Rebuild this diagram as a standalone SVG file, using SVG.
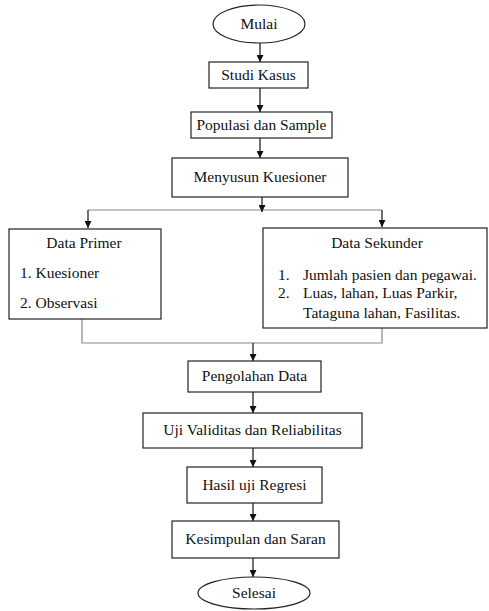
<svg xmlns="http://www.w3.org/2000/svg" width="489" height="611" viewBox="0 0 489 611">
<style>
.box{fill:#fff;stroke:#222;stroke-width:1.2}
.c{text-anchor:middle}
.ln{fill:none;stroke:#111;stroke-width:1.2}
.gl{fill:none;stroke:#888;stroke-width:1.2}
</style>
<defs>
<marker id="ah" viewBox="0 0 10 10" refX="10" refY="5" markerWidth="7" markerHeight="7" orient="auto" markerUnits="userSpaceOnUse"><path d="M0,0 L10,5 L0,10 z" fill="#111"/></marker>
</defs>
<g id="connectors">
<path class="ln" d="M260,43 V62" marker-end="url(#ah)"/>
<path class="ln" d="M260,88 V112" marker-end="url(#ah)"/>
<path class="ln" d="M260,138 V158" marker-end="url(#ah)"/>
<path class="gl" d="M88,210 H382"/>
<path class="ln" d="M262,197 V212" marker-end="url(#ah)"/>
<path class="ln" d="M88,210 V228" marker-end="url(#ah)"/>
<path class="ln" d="M382,210 V227" marker-end="url(#ah)"/>
<path class="gl" d="M82,319 V343 H382 V328"/>
<path class="ln" d="M253,343 V361" marker-end="url(#ah)"/>
<path class="ln" d="M253,392 V413" marker-end="url(#ah)"/>
<path class="ln" d="M253,448 V467" marker-end="url(#ah)"/>
<path class="ln" d="M253,503 V521" marker-end="url(#ah)"/>
<path class="ln" d="M253,558 V577" marker-end="url(#ah)"/>
</g>
<g font-family="Liberation Serif, serif" font-size="15.5" fill="#111">
<g id="mulai"><ellipse class="box" cx="259" cy="24" rx="46" ry="19"/><text class="c" x="259" y="29">Mulai</text></g>
<g id="studi"><rect class="box" x="209" y="62" width="99" height="26"/><text class="c" x="258.5" y="80">Studi Kasus</text></g>
<g id="populasi"><rect class="box" x="191" y="112" width="141" height="26"/><text class="c" x="261.5" y="130">Populasi dan Sample</text></g>
<g id="menyusun"><rect class="box" x="172" y="158" width="176" height="39"/><text class="c" x="260" y="182">Menyusun Kuesioner</text></g>
<g id="primer"><rect class="box" x="9" y="229" width="152" height="90"/>
<text class="c" x="84" y="248">Data Primer</text>
<text x="20" y="278">1. Kuesioner</text>
<text x="20" y="308">2. Observasi</text></g>
<g id="sekunder"><rect class="box" x="263" y="228" width="224" height="100"/>
<text class="c" x="377" y="248">Data Sekunder</text>
<text x="278" y="280">1.</text><text x="303" y="280">Jumlah pasien dan pegawai.</text>
<text x="278" y="298">2.</text><text x="303" y="298">Luas, lahan, Luas Parkir,</text>
<text x="303" y="318">Tataguna lahan, Fasilitas.</text></g>
<g id="pengolahan"><rect class="box" x="188" y="361" width="133" height="31"/><text class="c" x="254.5" y="381">Pengolahan Data</text></g>
<g id="uji"><rect class="box" x="143" y="413" width="219" height="35"/><text class="c" x="252.5" y="435">Uji Validitas dan Reliabilitas</text></g>
<g id="hasil"><rect class="box" x="187" y="467" width="135" height="36"/><text class="c" x="254.5" y="490">Hasil uji Regresi</text></g>
<g id="kesimpulan"><rect class="box" x="172" y="521" width="167" height="37"/><text class="c" x="255.5" y="544">Kesimpulan dan Saran</text></g>
<g id="selesai"><ellipse class="box" cx="254" cy="593" rx="56" ry="16"/><text class="c" x="254" y="598">Selesai</text></g>
</g>
</svg>
